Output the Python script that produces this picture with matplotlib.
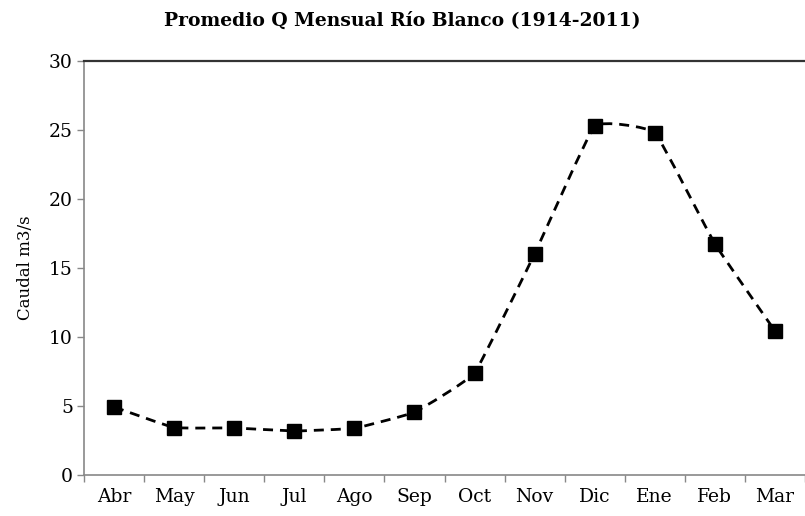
import matplotlib
matplotlib.use("Agg")
import matplotlib.pyplot as plt
from matplotlib.path import Path
from matplotlib.patches import PathPatch

months = ["Abr", "May", "Jun", "Jul", "Ago", "Sep", "Oct", "Nov", "Dic", "Ene", "Feb", "Mar"]
caudal = [4.93, 3.44, 3.41, 3.19, 3.39, 4.55, 7.4, 16.03, 25.29, 24.8, 16.75, 10.44]

plt.rcParams["font.family"] = ["DejaVu Serif"]


def smooth_path(xs, ys, k=1 / 20):
    # gentle bezier through the points, like Excel's smoothed line
    pts = list(zip(xs, ys))
    verts = [pts[0]]
    codes = [Path.MOVETO]
    n = len(pts)
    for i in range(n - 1):
        p0 = pts[i - 1] if i > 0 else pts[i]
        p1 = pts[i]
        p2 = pts[i + 1]
        p3 = pts[i + 2] if i + 2 < n else pts[i + 1]
        c1 = (p1[0] + (p2[0] - p0[0]) * k, p1[1] + (p2[1] - p0[1]) * k)
        c2 = (p2[0] - (p3[0] - p1[0]) * k, p2[1] - (p3[1] - p1[1]) * k)
        verts += [c1, c2, p2]
        codes += [Path.CURVE4] * 3
    return Path(verts, codes)


fig = plt.figure(figsize=(8.05, 5.16), dpi=100)
ax = fig.add_axes([84 / 805, 41 / 516, 1 - 84 / 805, 414 / 516])

x = list(range(len(months)))
ax.add_patch(PathPatch(smooth_path(x, caudal), fill=False, edgecolor="black",
                       linewidth=2.0, linestyle=(0, (3.6, 2.5)), zorder=2))
ax.plot(x, caudal, linestyle="none", marker="s", markersize=10, color="black", zorder=3)

ax.set_xlim(-0.5, -0.5 + (805 - 84) / 60.8)
ax.set_ylim(0, 30)
ax.set_yticks(range(0, 31, 5))
ax.set_xticks(x)
ax.set_xticklabels(months)
ax.set_xticks([i - 0.5 for i in range(len(months) + 1)], minor=True)
ax.tick_params(axis="x", which="major", length=0, pad=9, labelsize=13.5)
ax.tick_params(axis="x", which="minor", length=5, color="#888888", width=1)
ax.tick_params(axis="y", length=5, color="#888888", width=1, labelsize=13.5, pad=3)

for s in ["left", "bottom"]:
    ax.spines[s].set_color("#888888")
    ax.spines[s].set_linewidth(1.2)
ax.spines["top"].set_color("#333333")
ax.spines["top"].set_linewidth(1.6)
ax.spines["right"].set_visible(False)

ax.set_ylabel("Caudal m3/s", fontsize=12, labelpad=11)
fig.suptitle("Promedio Q Mensual Río Blanco (1914-2011)", x=0.5, y=0.978,
             fontsize=13.5, fontweight="bold")

fig.savefig("out.png", dpi=100)
